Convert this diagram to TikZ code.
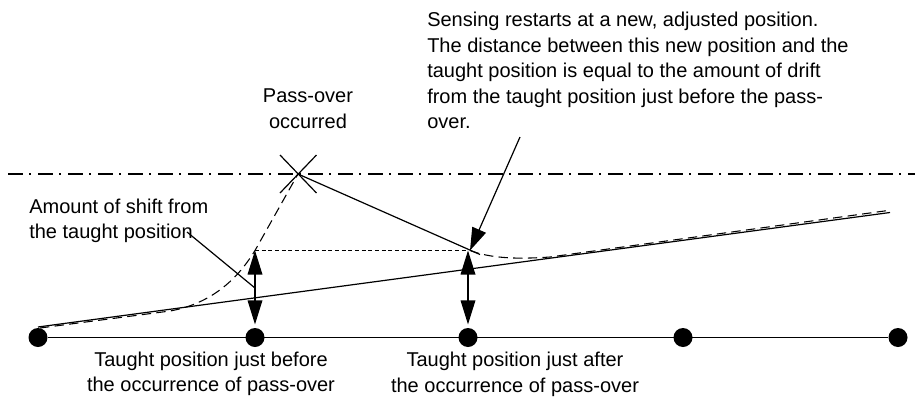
\documentclass[tikz,border=0pt]{standalone}
\usepackage{fontspec}
\setmainfont{Liberation Sans}
\usetikzlibrary{arrows.meta}
\begin{document}
\begin{tikzpicture}[x=0.75pt,y=-0.75pt,
  lbl/.style={font=\fontsize{15}{19.1}\selectfont, inner sep=0pt},
  dotnode/.style={circle,fill=black,minimum size=14.25pt,inner sep=0pt},
  solidline/.style={line width=0.9pt},
  dashcurve/.style={line width=0.8pt, dash pattern=on 7pt off 4pt},
  dotline/.style={line width=0.8pt, dash pattern=on 3pt off 2pt},
  dashdotline/.style={line width=0.8pt, dash pattern=on 11pt off 5pt on 1.5pt off 5pt},
  onetip/.style={-{Triangle[length=17pt,width=11pt]}},
  twotips/.style={{Triangle[length=18pt,width=11pt]}-{Triangle[length=18pt,width=11pt]}},
]
\useasboundingbox (0,0) rectangle (915,397);

% taught positions
\node[dotnode] (d1) at (38,337.5) {};
\node[dotnode] (d2) at (255,337.5) {};
\node[dotnode] (d3) at (468,337.5) {};
\node[dotnode] (d4) at (683,337.5) {};
\node[dotnode] (d5) at (898,337.5) {};
\draw[line width=1.1pt] (d1) -- (d5);

% key points
\coordinate (start) at (38,327);
\coordinate (dstart) at (40,328);
\coordinate (driftend) at (890,212.5);
\coordinate (bend) at (170,311);
\coordinate (sh) at (255,250.5);
\coordinate (X) at (298,174);
\coordinate (np) at (470,250.5);
\coordinate (xend) at (480,254.5);
\coordinate (merge) at (550,257);
\coordinate (dashend) at (888,210.5);
\coordinate (ddl) at (8,174);
\coordinate (ddr) at (915,174);
\coordinate (arrstart) at (520,137);
\coordinate (lead1) at (187,232);
\coordinate (lead2) at (255,288);
\coordinate (sh2) at (468,250.5);

% dash-dot reference line
\draw[dashdotline] (ddl) -- (ddr);

% drift line
\draw[solidline] (start) -- (driftend);

% actual path (dashed)
\draw[dashcurve] (dstart) -- (bend) .. controls (215,303) and (240,275) .. (sh) -- (X);
\draw[dashcurve] (np) .. controls (490,258) and (515,259.5) .. (merge) -- (dashend);

% pass-over marker
\draw[solidline] ([shift={(-18,-19)}]X) -- ([shift={(18.5,19)}]X);
\draw[solidline] ([shift={(18.5,-19)}]X) -- ([shift={(-18,19)}]X);

% jump back to adjusted position
\draw[solidline] (X) -- (xend);

% dotted horizontal
\draw[dotline] (sh) -- (sh2);

% shift arrows
\draw[solidline,twotips] (sh) -- ([yshift=2.5pt]d2.north);
\draw[solidline,twotips] (sh2) -- ([yshift=2.5pt]d3.north);

% leader and callout arrow
\draw[solidline] (lead1) -- (lead2);
\draw[solidline,onetip] (arrstart) -- (np);

% labels
\node[lbl,anchor=north west,align=left] (t1) at (427,12.2)
  {Sensing restarts at a new, adjusted position.\\
   The distance between this new position and the\\
   taught position is equal to the amount of drift\\
   from the taught position just before the pass-\\
   over.};
\node[lbl,anchor=north,align=center] (t2) at (308,88.7) {Pass-over\\occurred};
\node[lbl,anchor=north west,align=left] (t3) at (29,198.4) {Amount of shift from\\the taught position};
\node[lbl,anchor=north,align=center] (t4) at (211,351.7) {Taught position just before\\the occurrence of pass-over};
\node[lbl,anchor=north,align=center] (t5) at (515,352.2) {Taught position just after\\the occurrence of pass-over};
\end{tikzpicture}
\end{document}
